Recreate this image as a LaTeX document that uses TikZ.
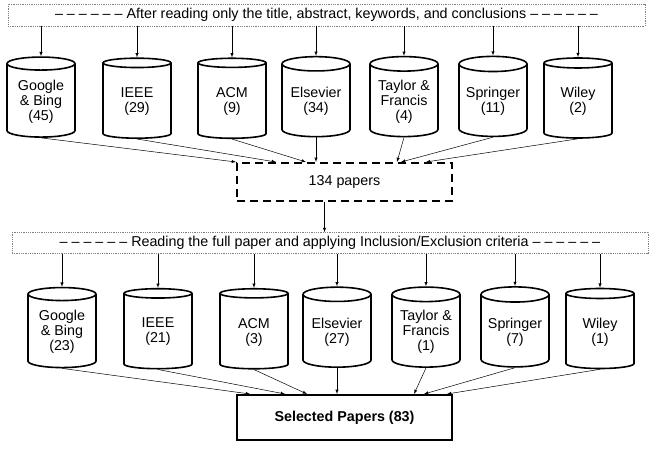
\documentclass[tikz,border=0pt]{standalone}
\usepackage{fontspec}
\setmainfont{Liberation Sans}
\usetikzlibrary{positioning,shapes.geometric,arrows}

\newcommand{\dashrow}{\textendash{} \textendash{} \textendash{} \textendash{} \textendash{} \textendash}

\begin{document}
\begin{tikzpicture}[x=1pt,y=-1pt,font=\fontsize{14.3}{15}\selectfont]
      \tikzstyle{db} = [cylinder, shape border rotate=90, draw, line
      width=1.6pt, aspect=0.27, minimum width=68pt, minimum
      height=80pt, inner sep=1pt, align=center]
      \tikzstyle{band} = [draw=gray, dash pattern=on 0.8pt off 1pt,
      line width=0.6pt, minimum height=22pt, inner sep=0pt]
      \tikzstyle{arr} = [->, >=latex, line width=0.5pt]
      \useasboundingbox (0,0) rectangle (654,449);
      % first screening
      \node[band, minimum width=637pt] (b1) at (326.5,15)
      {\dashrow{} After reading only the title, abstract, keywords, and
        conclusions \dashrow};
      \node[db] (g1) at (41,101.5) {Google\\\& Bing\\(45)};
      \node[db] (i1) at (137,101.5) {IEEE\\(29)};
      \node[db] (a1) at (232,101.5) {ACM\\(9)};
      \node[db] (e1) at (316,101.5) {Elsevier\\(34)};
      \node[db] (t1) at (404,101.5) {Taylor \&\\Francis\\(4)};
      \node[db] (s1) at (493,101.5) {Springer\\(11)};
      \node[db] (w1) at (578,101.5) {Wiley\\(2)};
      \foreach \n in {g1,i1,a1,e1,t1,s1,w1}
      \draw[arr] (b1.south -| \n.top) -- (\n.top);
      \node[draw, dash pattern=on 8pt off 5pt, line width=2pt,
      minimum width=215pt, minimum height=38pt] (p) at (344.5,182)
      {134 papers};
      \draw[arr] (g1.bottom) -- (p.north west);
      \draw[arr] (i1.bottom) -- ([xshift=40pt]p.north west);
      \draw[arr] (a1.bottom) -- ([xshift=70pt]p.north west);
      \draw[arr] (e1.bottom) -- (e1.bottom |- p.north);
      \draw[arr] (t1.bottom) -- ([xshift=161pt]p.north west);
      \draw[arr] (s1.bottom) -- ([xshift=165pt]p.north west);
      \draw[arr] (w1.bottom) -- ([xshift=190pt]p.north west);
      % second screening
      \node[band, minimum width=636pt, minimum height=21pt] (b2) at
      (330,243) {\dashrow{} Reading the full paper and applying
        Inclusion/Exclusion criteria \dashrow};
      \draw[arr] ([xshift=-20pt]p.south) -- ([xshift=-20pt]p.south |-
      b2.north);
      \node[db] (g2) at (62,332) {Google\\\& Bing\\(23)};
      \node[db] (i2) at (158,332) {IEEE\\(21)};
      \node[db] (a2) at (254,332) {ACM\\(3)};
      \node[db] (e2) at (337,332) {Elsevier\\(27)};
      \node[db] (t2) at (426,332) {Taylor \&\\Francis\\(1)};
      \node[db] (s2) at (515,332) {Springer\\(7)};
      \node[db] (w2) at (600,332) {Wiley\\(1)};
      \foreach \n in {g2,i2,a2,e2,t2,s2,w2}
      \draw[arr] (b2.south -| \n.top) -- (\n.top);
      \node[draw, line width=2pt, minimum width=215pt, minimum
      height=45pt, font=\fontsize{14.3}{15}\selectfont\bfseries] (sel)
      at (344.5,417.5) {Selected Papers (83)};
      \draw[arr] (g2.bottom) -- ([xshift=14pt]sel.north west);
      \draw[arr] (i2.bottom) -- ([xshift=49pt]sel.north west);
      \draw[arr] (a2.bottom) -- ([xshift=71pt]sel.north west);
      \draw[arr] (e2.bottom) -- (e2.bottom |- sel.north);
      \draw[arr] (t2.bottom) -- ([xshift=178pt]sel.north west);
      \draw[arr] (s2.bottom) -- ([xshift=188pt]sel.north west);
      \draw[arr] (w2.bottom) -- ([xshift=211pt]sel.north west);
    \end{tikzpicture}
\end{document}
